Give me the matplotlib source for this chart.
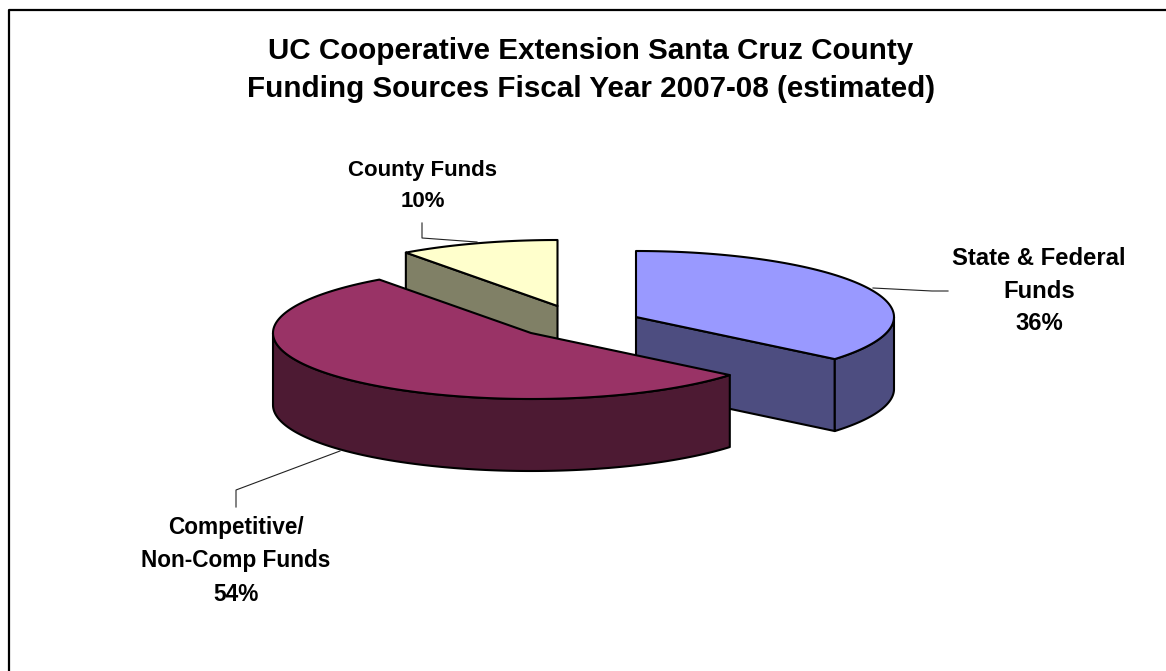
import numpy as np
import matplotlib
matplotlib.use("Agg")
import matplotlib.pyplot as plt
from matplotlib.patches import Polygon

plt.rcParams['font.family'] = ['Liberation Sans', 'DejaVu Sans']

title = "UC Cooperative Extension Santa Cruz County\nFunding Sources Fiscal Year 2007-08 (estimated)"
names = ["State & Federal\nFunds", "Competitive/\nNon-Comp Funds", "County Funds"]
shares = [36, 54, 10]

top_colors = ["#9999FF", "#993366", "#FFFFCC"]
wall_colors = ["#4D4D80", "#4D1A33", "#808066"]

# layout in pixels, y going down
centers = [(636, 317), (531, 333), (557.5, 306)]
rx, ry = 258, 66
depth = 72
label_pos = [(1039, 291), (236, 561), (423, 186)]
label_sizes = [17.2, 16.3, 16.0]
leaders = [
    ([873, 932, 948], [288, 291, 291]),
    ([236, 236, 340], [507, 490, 451]),
    ([422, 422, 477], [223, 238, 242]),
]


def rim(c, a0, a1):
    # angles clockwise from 12 o'clock, in degrees
    t = np.radians(np.linspace(a0, a1, 200))
    return np.column_stack([c[0] + rx * np.sin(t), c[1] - ry * np.cos(t)])


def add_poly(pts, color):
    ax.add_patch(Polygon(pts, closed=True, facecolor=color, edgecolor="black",
                         linewidth=1.5, joinstyle="round"))


fig = plt.figure(figsize=(11.66, 6.71), dpi=100)
ax = fig.add_axes([0, 0, 1, 1])
ax.set_xlim(0, 1166)
ax.set_ylim(671, 0)
ax.axis("off")

# frame, only top and left reach the picture
ax.plot([8.5, 8.5, 1166], [671, 9.5, 9.5], color="black", linewidth=1.6)

starts = np.cumsum([0] + shares[:-1]) * 3.6
ends = np.cumsum(shares) * 3.6

# back to front: county, state, competitive
for i in [2, 0, 1]:
    c = centers[i]
    a0, a1 = starts[i], ends[i]
    edge0 = rim(c, a0, a0)[0]
    edge1 = rim(c, a1, a1)[0]
    down = np.array([0, depth])

    # cut faces that look toward the viewer
    if 90 < a1 < 270:
        add_poly([c, edge1, edge1 + down, np.array(c) + down], wall_colors[i])
    if 270 < a0 < 360 or 0 < a0 < 90:
        add_poly([c, edge0, edge0 + down, np.array(c) + down], wall_colors[i])

    # outer wall, front half of the ellipse only
    w0, w1 = max(a0, 90), min(a1, 270)
    if w1 > w0:
        arc = rim(c, w0, w1)
        add_poly(np.vstack([arc, arc[::-1] + down]), wall_colors[i])

    add_poly(np.vstack([[c], rim(c, a0, a1)]), top_colors[i])

for xs, ys in leaders:
    ax.plot(xs, ys, color="#222222", linewidth=0.8, zorder=0.5)

ax.text(591, 70, title, ha="center", va="center", fontsize=21.3, fontweight="bold",
        linespacing=1.48)

for name, share, pos, size in zip(names, shares, label_pos, label_sizes):
    # 32 px between lines whatever the size
    ax.text(pos[0], pos[1], f"{name}\n{share}%", ha="center", va="center",
            fontsize=size, fontweight="bold", linespacing=32 / (1.227 * size))

fig.savefig("out.png", dpi=100)
